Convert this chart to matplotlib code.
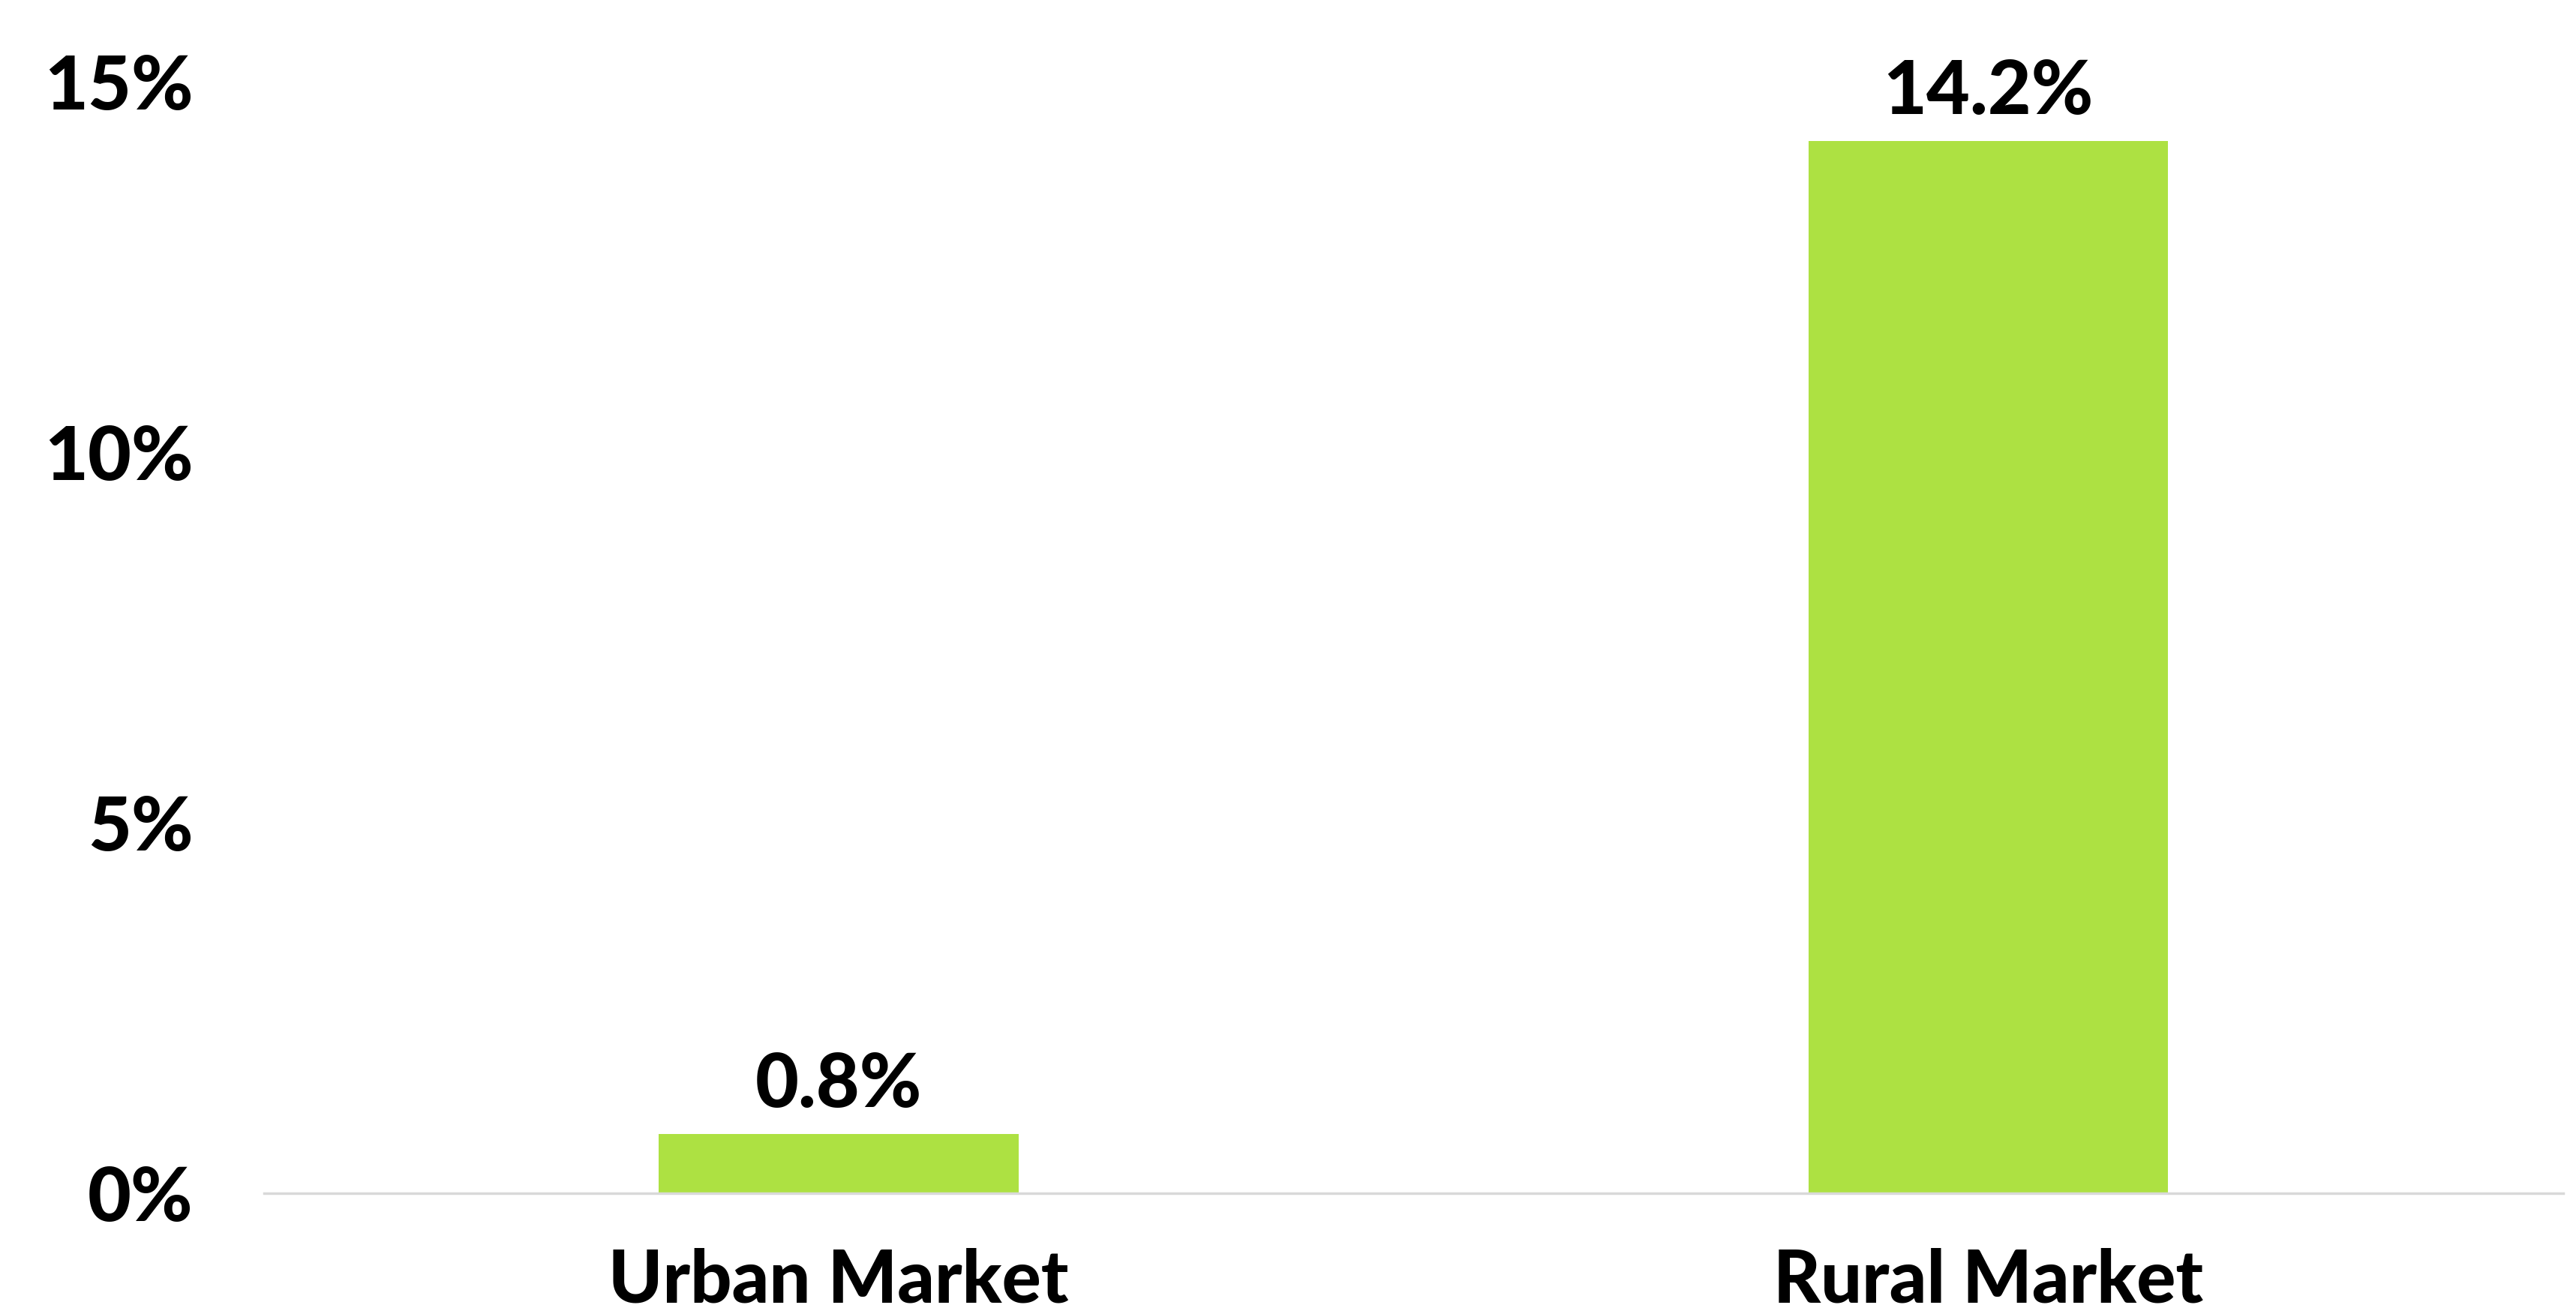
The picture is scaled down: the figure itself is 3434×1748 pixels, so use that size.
import matplotlib
matplotlib.use("Agg")
import matplotlib.pyplot as plt
from matplotlib.ticker import FuncFormatter

categories = ["Urban Market", "Rural Market"]
values = [0.8, 14.2]
yticks = [0, 5, 10, 15]

plt.rcParams['font.family'] = ['Lato', 'DejaVu Sans']

fig = plt.figure(figsize=(34.34, 17.48), dpi=100)
ax = fig.add_axes([0.1025, 0.0898, 0.8925, 0.8478])

x = range(len(categories))
bars = ax.bar(x, values, width=0.313, color="#ADE142")

for b, v in zip(bars, values):
    ax.annotate(f"{v:.1f}%", (b.get_x() + b.get_width() / 2, v),
                xytext=(0, 14), textcoords="offset points",
                ha="center", va="bottom", fontsize=72, fontweight="black")

ax.set_xlim(-0.5, 1.5)
ax.set_ylim(0, 15)
ax.set_xticks(list(x))
ax.set_xticklabels(categories, fontsize=70, fontweight="black")
ax.set_yticks(yticks)
ax.yaxis.set_major_formatter(FuncFormatter(lambda v, p: f"{v:.0f}%"))
for lab in ax.get_yticklabels():
    lab.set_fontsize(72)
    lab.set_fontweight("black")
ax.tick_params(axis="both", length=0)
ax.tick_params(axis="y", pad=68)
ax.tick_params(axis="x", pad=52)

for s in ["top", "right", "left"]:
    ax.spines[s].set_visible(False)
ax.spines["bottom"].set_color("#D9D9D9")
ax.spines["bottom"].set_linewidth(2.5)

fig.savefig("out.png", dpi=100)
